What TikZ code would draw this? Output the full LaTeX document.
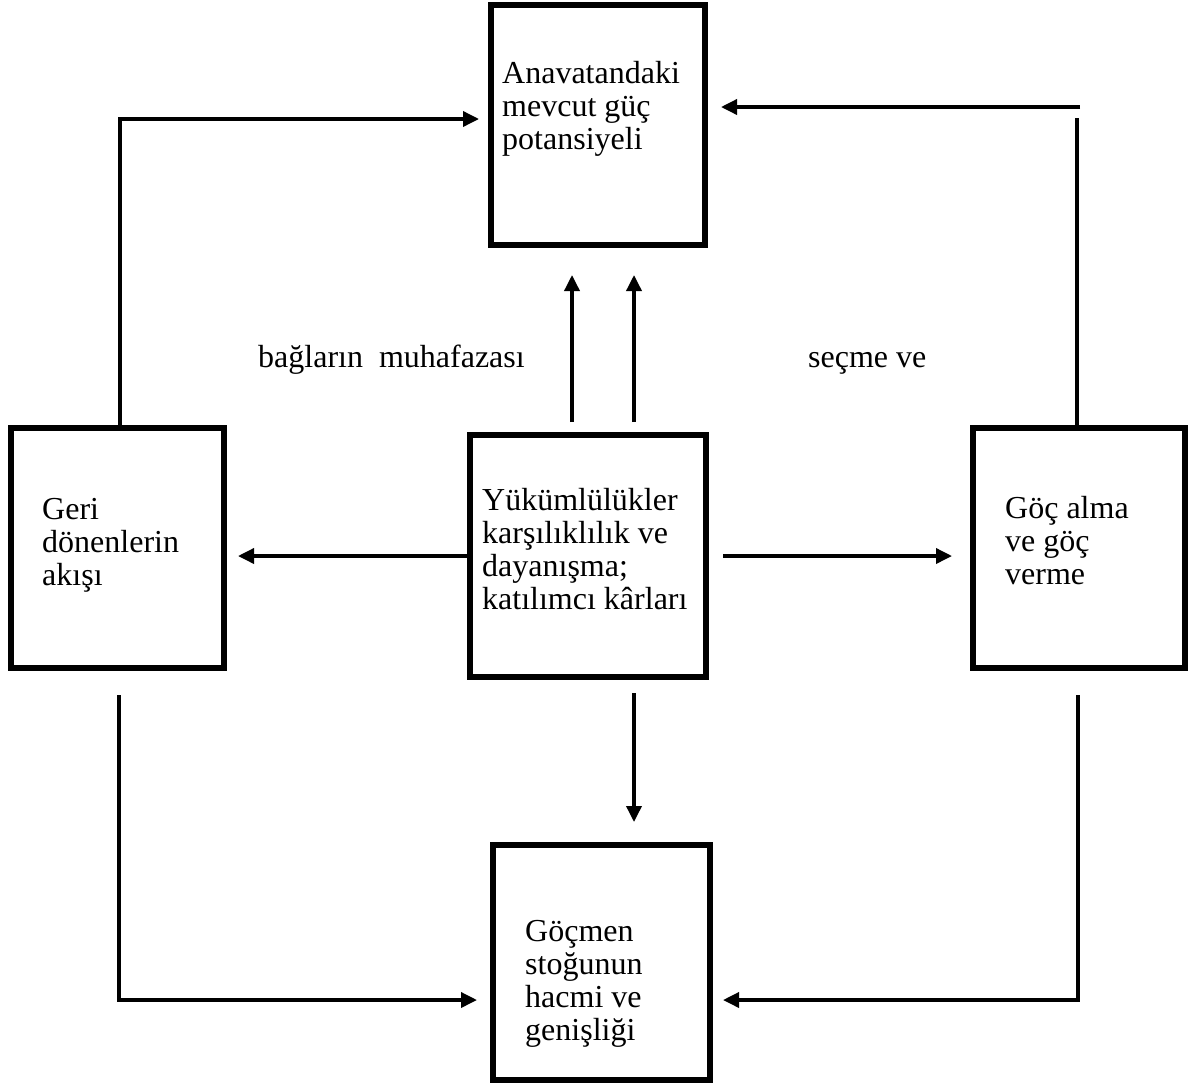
\documentclass[tikz,border=0pt]{standalone}
\usepackage{fontspec}
\setmainfont{Liberation Serif}
\usetikzlibrary{arrows.meta}
\begin{document}
\begin{tikzpicture}[x=1pt,y=-1pt,
  box/.style={draw,line width=6pt,inner sep=0pt},
  txt/.style={anchor=north west,inner sep=0pt,align=left,font=\fontsize{32}{33}\selectfont},
  lbl/.style={anchor=base west,inner sep=0pt,font=\fontsize{32}{33}\selectfont},
  conn/.style={line width=3.5pt},
  arr/.style={line width=3.5pt,-{Triangle[length=16pt,width=15pt]}}]
\useasboundingbox[fill=white] (0,0) rectangle (1188,1090);

% boxes
\node[box,minimum width=214pt,minimum height=240pt] (T) at (598,125) {};
\node[box,minimum width=236pt,minimum height=242pt] (C) at (588,556) {};
\node[box,minimum width=213pt,minimum height=240pt] (L) at (117.5,548) {};
\node[box,minimum width=212pt,minimum height=240pt] (R) at (1079,548) {};
\node[box,minimum width=217pt,minimum height=235pt] (B) at (601.5,962.5) {};

% texts
\node[txt] (tT) at (502,61) {Anavatandaki\\mevcut güç\\potansiyeli};
\node[txt] (tC) at (482,488) {Yükümlülükler\\karşılıklılık ve\\dayanışma;\\katılımcı kârları};
\node[txt] (tL) at (42,498) {Geri\\dönenlerin\\akışı};
\node[txt] (tR) at (1005,496) {Göç alma\\ve göç\\verme};
\node[txt] (tB) at (525,920) {Göçmen\\stoğunun\\hacmi ve\\genişliği};
\node[lbl] (l1) at (258,367) {bağların\ \ muhafazası};
\node[lbl] (l2) at (808,367) {seçme ve};

% connectors
\coordinate (lc) at (120,119);
\draw[arr,shorten >=9pt] (L.north -| lc) |- (T.west |- lc);
\coordinate (r1) at (1080,107);
\draw[arr,shorten >=13pt] (r1) -- (T.east |- r1);
\coordinate (r2) at (1077,118);
\draw[conn] (r2) -- (R.north -| r2);
\coordinate (u1) at (572,275);
\coordinate (u2) at (634,275);
\draw[arr,shorten <=10pt] (C.north -| u1) -- (u1);
\draw[arr,shorten <=10pt] (C.north -| u2) -- (u2);
\draw[arr,shorten >=11pt] (C.west) -- (L.east |- C.west);
\draw[arr,shorten <=14pt,shorten >=18pt] (C.east) -- (R.west |- C.east);
\draw[arr,shorten <=13pt,shorten >=20pt] (C.south -| u2) -- (B.north -| u2);
\coordinate (lb) at (119,1000);
\draw[arr,shorten <=24pt,shorten >=13pt] (L.south -| lb) |- (B.west |- lb);
\coordinate (rb) at (1078,1000);
\draw[arr,shorten <=24pt,shorten >=10pt] (R.south -| rb) |- (B.east |- rb);
\end{tikzpicture}
\end{document}
